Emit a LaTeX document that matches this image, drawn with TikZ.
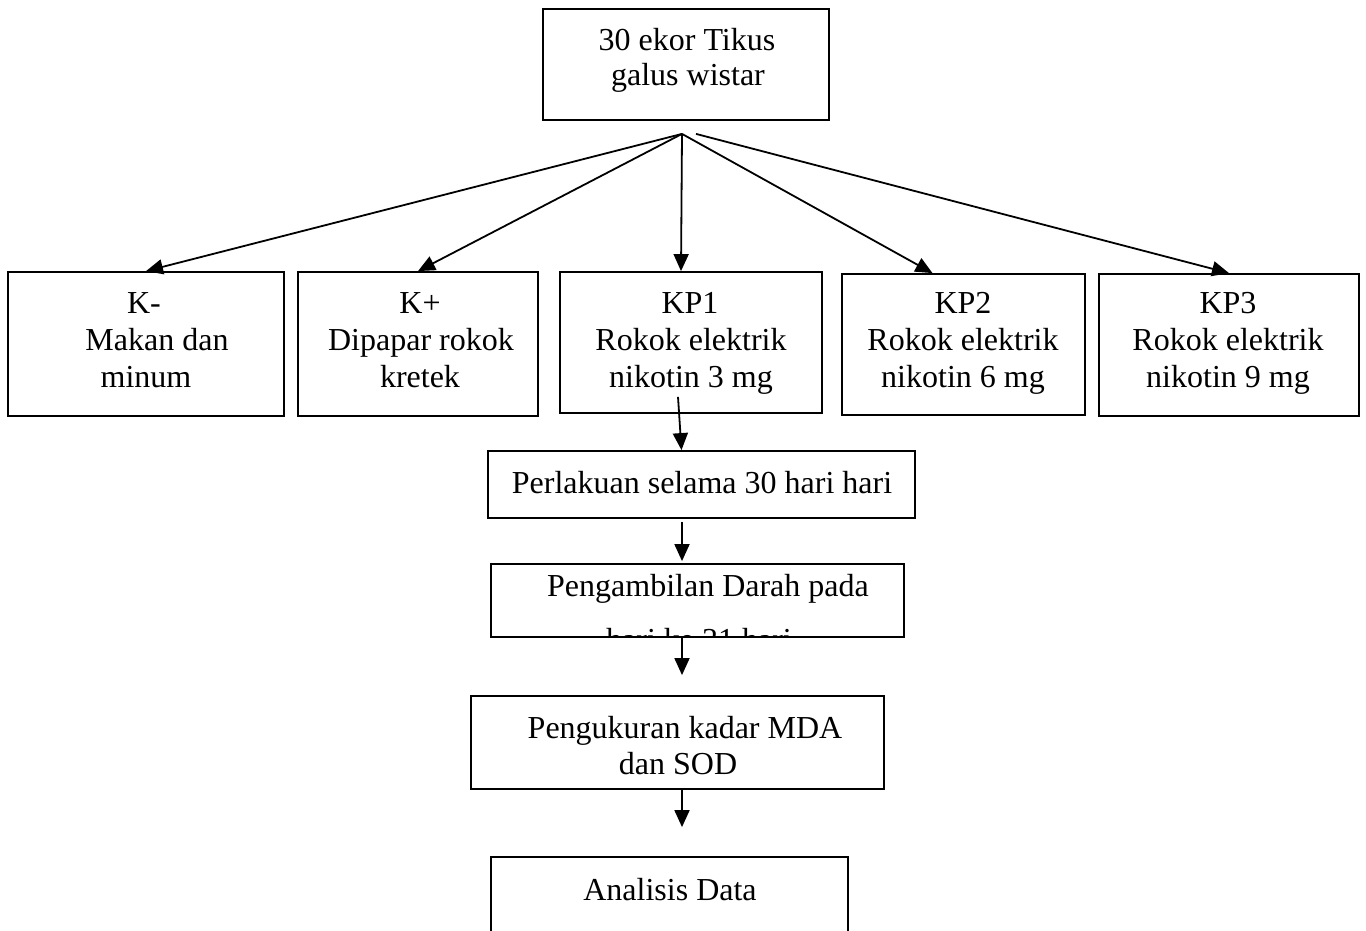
\documentclass[tikz,border=0pt]{standalone}
\usepackage{fontspec}
\setmainfont{Liberation Serif}
\usetikzlibrary{arrows.meta,calc}
\begin{document}
\begin{tikzpicture}[x=1pt,y=-1pt,
  box/.style={draw,line width=1.8pt,rectangle,inner sep=0pt},
  txt/.style={anchor=base,inner sep=0pt,font=\fontsize{32}{37}\selectfont},
  arr/.style={line width=1.8pt,-{Triangle[length=17pt,width=15pt]}},
  ln/.style={line width=1.8pt}]
\clip (0,0) rectangle (1366,931);
\fill[white] (0,0) rectangle (1366,931);
% boxes
\node[box,minimum width=286pt,minimum height=111pt] (top) at (686,64.5) {};
\node[box,minimum width=276pt,minimum height=144pt] (km) at (146,344) {};
\node[box,minimum width=240pt,minimum height=144pt] (kp) at (418,344) {};
\node[box,minimum width=262pt,minimum height=141pt] (kp1) at (691,342.5) {};
\node[box,minimum width=243pt,minimum height=141pt] (kp2) at (963.5,344.5) {};
\node[box,minimum width=260pt,minimum height=142pt] (kp3) at (1229,345) {};
\node[box,minimum width=427pt,minimum height=67pt] (perl) at (701.5,484.5) {};
\node[box,minimum width=413pt,minimum height=73pt] (amb) at (697.5,600.5) {};
\node[box,minimum width=413pt,minimum height=93pt] (ukur) at (677.5,742.5) {};
\node[box,minimum width=357pt,minimum height=110pt] (anal) at (669.5,912) {};
% texts
\node[txt] (t1) at (687,51) {30 ekor Tikus};
\node[txt] (t2) at (688,86) {galus wistar};
\node[txt] (a1) at (144,313) {K-};
\node[txt] (a2) at (157,350) {Makan dan};
\node[txt] (a3) at (146,387) {minum};
\node[txt] (b1) at (420,313) {K+};
\node[txt] (b2) at (421,350) {Dipapar rokok};
\node[txt] (b3) at (420,387) {kretek};
\node[txt] (c1) at (690,313) {KP1};
\node[txt] (c2) at (691,350) {Rokok elektrik};
\node[txt] (c3) at (691,387) {nikotin 3 mg};
\node[txt] (d1) at (963,313) {KP2};
\node[txt] (d2) at (963,350) {Rokok elektrik};
\node[txt] (d3) at (963,387) {nikotin 6 mg};
\node[txt] (e1) at (1228,313) {KP3};
\node[txt] (e2) at (1228,350) {Rokok elektrik};
\node[txt] (e3) at (1228,387) {nikotin 9 mg};
\node[txt] (p1) at (702,493) {Perlakuan selama 30 hari hari};
\node[txt] (g1) at (708,596) {Pengambilan Darah pada};
\begin{scope}
\clip (amb.north west) rectangle ($(amb.south east)+(0,-1)$);
\node[txt] (g2) at (699,650) {hari ke 31 hari};
\end{scope}
\node[txt] (u1) at (685,738) {Pengukuran kadar MDA};
\node[txt] (u2) at (678,774) {dan SOD};
\node[txt] (n1) at (670,900) {Analisis Data};
% connectors
\coordinate (fan) at ($(top.south)+(-4,13)$);
\coordinate (fan2) at ($(fan)+(14,0)$);
\coordinate (axis) at (682,0);
\draw[arr] (fan) -- (km.north);
\draw[arr] (fan) -- (kp.north);
\draw[arr] (fan) -- ($(kp1.north)+(-10,0)$);
\draw[arr] (fan) -- ($(kp2.north)+(-31,0)$);
\draw[arr] (fan2) -- (kp3.north);
\draw[arr] ($(kp1.south)+(-13,-17)$) -- ($(perl.north)+(-20,0)$);
\draw[arr] ($(perl.south -| axis)+(0,3)$) -- ($(amb.north -| axis)+(0,-2)$);
\draw[arr] (amb.south -| axis) -- ($(ukur.north -| axis)+(0,-20)$);
\draw[arr] (ukur.south -| axis) -- ($(anal.north -| axis)+(0,-29)$);
\end{tikzpicture}
\end{document}
